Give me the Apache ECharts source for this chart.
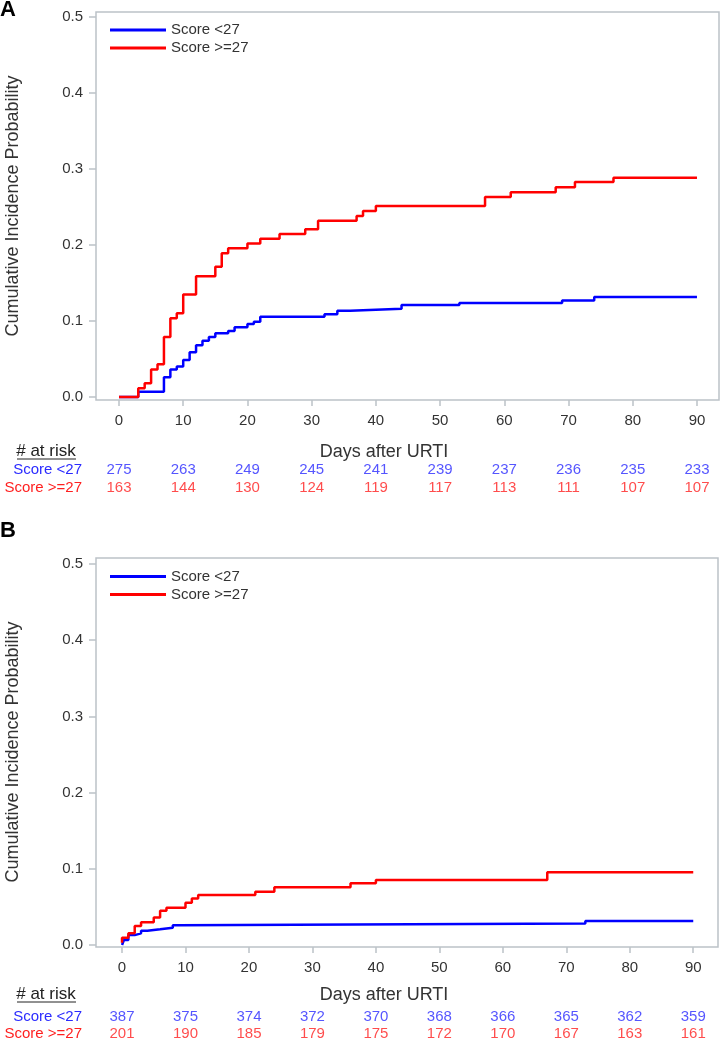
<!DOCTYPE html>
<html>
<head>
<meta charset="utf-8">
<script src="https://cdn.jsdelivr.net/npm/echarts@6/dist/echarts.min.js"></script>
<style>
html,body{margin:0;padding:0;background:#fff;}
#chart{width:722px;height:1042px;}
</style>
</head>
<body>
<div id="chart"></div>
<script>
// ---------- data ----------
var seriesNames = ['Score <27', 'Score >=27'];
var tickDays = [0, 10, 20, 30, 40, 50, 60, 70, 80, 90];
var yTicks = [0, 0.1, 0.2, 0.3, 0.4, 0.5];

// Panel A step curves (day of jump, cumulative incidence after jump)
var aBlueDays = [0, 3, 7, 8, 9, 10, 11, 12, 13, 14, 15, 17, 18, 20, 21, 22, 32, 34, 36, 44, 53, 69, 74, 90];
var aBlueVals = [0, 0.007, 0.026, 0.036, 0.040, 0.0487, 0.0588, 0.068, 0.074, 0.079, 0.0838, 0.0868, 0.0917, 0.096, 0.099, 0.1057, 0.109, 0.1136, 0.1162, 0.121, 0.1237, 0.1268, 0.1316, 0.1316];
var aRedDays = [0, 3, 4, 5, 6, 7, 8, 9, 10, 12, 15, 16, 17, 20, 22, 25, 29, 31, 37, 38, 40, 57, 61, 68, 71, 77, 90];
var aRedVals = [0, 0.0114, 0.018, 0.036, 0.043, 0.079, 0.1035, 0.110, 0.135, 0.159, 0.1715, 0.189, 0.1956, 0.202, 0.2083, 0.2145, 0.2206, 0.232, 0.238, 0.2447, 0.2513, 0.263, 0.2693, 0.276, 0.283, 0.2886, 0.2886];

// Panel B step curves
var bBlueDays = [0, 0.3, 1, 2, 3, 4, 6, 8, 9, 73, 90];
var bBlueVals = [0, 0.0066, 0.013, 0.0153, 0.0188, 0.0206, 0.0227, 0.026, 0.0284, 0.0315, 0.0315];
var bRedDays = [0, 0, 1, 2, 3, 5, 6, 7, 10, 11, 12, 21, 24, 36, 40, 67, 90];
var bRedVals = [0.003, 0.0096, 0.0153, 0.025, 0.030, 0.036, 0.045, 0.049, 0.0556, 0.061, 0.0656, 0.070, 0.0757, 0.081, 0.0853, 0.0954, 0.0954];

// Numbers at risk
var aRiskBlue = [275, 263, 249, 245, 241, 239, 237, 236, 235, 233];
var aRiskRed = [163, 144, 130, 124, 119, 117, 113, 111, 107, 107];
var bRiskBlue = [387, 375, 374, 372, 370, 368, 366, 365, 362, 359];
var bRiskRed = [201, 190, 185, 179, 175, 172, 170, 167, 163, 161];

// ---------- styling ----------
var BLUE = '#0000ff', RED = '#ff0000';
var BLUE_TXT = '#2b2bff', RED_TXT = '#ff1f1f';
var FRAME = '#bcc2c8';
var TXT = '#333333';
var FONT = '"Liberation Sans", Arial, sans-serif';

function pairs(xs, ys) { return xs.map(function (x, i) { return [x, ys[i]]; }); }
function riskPts(vals, row) { return tickDays.map(function (d, i) { return [d, row, vals[i]]; }); }

var chart = echarts.init(document.getElementById('chart'), null, { renderer: 'canvas' });

var xRangeA = { min: -3.58, max: 93.43 };
var xRangeB = { min: -4.1, max: 93.9 };

function plotX(gi, r) {
  return {
    type: 'value', gridIndex: gi, min: r.min, max: r.max,
    axisLine: { show: false, onZero: false },
    axisTick: { show: true, customValues: tickDays, length: 6, lineStyle: { color: FRAME, width: 1.5 } },
    axisLabel: { show: true, customValues: tickDays, margin: 13, color: TXT, fontSize: 15, fontFamily: FONT },
    splitLine: { show: false }
  };
}
function plotY(gi, mn, mx) {
  return {
    type: 'value', gridIndex: gi, min: mn, max: mx,
    axisLine: { show: false, onZero: false },
    axisTick: { show: true, customValues: yTicks, length: 7, lineStyle: { color: FRAME, width: 1.5 } },
    axisLabel: { show: true, customValues: yTicks, margin: 13, color: TXT, fontSize: 15, fontFamily: FONT,
      formatter: function (v) { return v.toFixed(1); } },
    splitLine: { show: false }
  };
}
function riskX(gi, r) {
  return { type: 'value', gridIndex: gi, min: r.min, max: r.max, show: false };
}
function riskY(gi) {
  return {
    type: 'category', gridIndex: gi, data: seriesNames, inverse: true,
    axisLine: { show: false }, axisTick: { show: false }, splitLine: { show: false },
    axisLabel: {
      interval: 0, hideOverlap: false,
      margin: 14, fontSize: 15, fontFamily: FONT,
      formatter: function (v, i) { return i === 0 ? '{b|' + v + '}' : '{r|' + v + '}'; },
      rich: { b: { color: BLUE_TXT, fontSize: 15, fontFamily: FONT }, r: { color: RED_TXT, fontSize: 15, fontFamily: FONT } }
    }
  };
}
function stepSeries(name, color, xi, data) {
  return {
    name: name, type: 'line', step: 'end', xAxisIndex: xi, yAxisIndex: xi,
    data: data, symbol: 'none', showSymbol: false, animation: false,
    lineStyle: { color: color, width: 2.5 }, itemStyle: { color: color }
  };
}
function riskSeries(color, xi, data) {
  return {
    type: 'scatter', xAxisIndex: xi, yAxisIndex: xi, data: data, symbolSize: 0, animation: false,
    silent: true,
    label: { show: true, position: 'inside', color: color, fontSize: 15, fontFamily: FONT,
      formatter: function (p) { return String(p.value[2]); } }
  };
}
function legendAt(top) {
  return {
    orient: 'vertical', left: 105, top: top, data: seriesNames,
    icon: 'rect', itemWidth: 56, itemHeight: 3, itemGap: 3,
    selectedMode: false,
    textStyle: { color: TXT, fontSize: 15, fontFamily: FONT, lineHeight: 15 }
  };
}
function txt(x, y, s, size, opts) {
  var st = Object.assign({ text: s, fill: TXT, font: size + 'px ' + FONT, textAlign: 'center', textVerticalAlign: 'middle' }, opts || {});
  return { type: 'text', x: x, y: y, style: st, silent: true };
}

var option = {
  backgroundColor: '#ffffff',
  animation: false,
  grid: [
    { left: 96, right: 3, top: 12, height: 388, show: true, borderColor: FRAME, borderWidth: 1.5, backgroundColor: 'transparent' },
    { left: 96, right: 3, top: 461, height: 36 },
    { left: 96, right: 4, top: 558, height: 389, show: true, borderColor: FRAME, borderWidth: 1.5, backgroundColor: 'transparent' },
    { left: 96, right: 4, top: 1009, height: 36 }
  ],
  xAxis: [plotX(0, xRangeA), riskX(1, xRangeA), plotX(2, xRangeB), riskX(3, xRangeB)],
  yAxis: [plotY(0, -0.004, 0.5066), riskY(1), plotY(2, -0.0026, 0.5079), riskY(3)],
  legend: [legendAt(17.5), legendAt(564)],
  series: [
    stepSeries(seriesNames[0], BLUE, 0, pairs(aBlueDays, aBlueVals)),
    stepSeries(seriesNames[1], RED, 0, pairs(aRedDays, aRedVals)),
    riskSeries(BLUE_TXT, 1, riskPts(aRiskBlue, 0)),
    riskSeries(RED_TXT, 1, riskPts(aRiskRed, 1)),
    stepSeries(seriesNames[0], BLUE, 2, pairs(bBlueDays, bBlueVals)),
    stepSeries(seriesNames[1], RED, 2, pairs(bRedDays, bRedVals)),
    riskSeries(BLUE_TXT, 3, riskPts(bRiskBlue, 0)),
    riskSeries(RED_TXT, 3, riskPts(bRiskRed, 1))
  ],
  graphic: [
    txt(8, 10, 'A', 22, { fill: '#000', font: 'bold 22px ' + FONT }),
    txt(8, 531, 'B', 22, { fill: '#000', font: 'bold 22px ' + FONT }),
    { type: 'text', x: 13, y: 206, rotation: Math.PI / 2, silent: true,
      style: { text: 'Cumulative Incidence Probability', fill: TXT, font: '18px ' + FONT, textAlign: 'center', textVerticalAlign: 'middle' } },
    { type: 'text', x: 13, y: 752, rotation: Math.PI / 2, silent: true,
      style: { text: 'Cumulative Incidence Probability', fill: TXT, font: '18px ' + FONT, textAlign: 'center', textVerticalAlign: 'middle' } },
    txt(384, 452, 'Days after URTI', 18),
    txt(384, 995, 'Days after URTI', 18),
    txt(46, 451, '# at risk', 17, { fill: '#222' }),
    { type: 'line', silent: true, shape: { x1: 17, y1: 459, x2: 76, y2: 459 }, style: { stroke: '#222', lineWidth: 1 } },
    txt(46, 994, '# at risk', 17, { fill: '#222' }),
    { type: 'line', silent: true, shape: { x1: 17, y1: 1002, x2: 76, y2: 1002 }, style: { stroke: '#222', lineWidth: 1 } }
  ]
};
chart.setOption(option);
</script>
</body>
</html>
